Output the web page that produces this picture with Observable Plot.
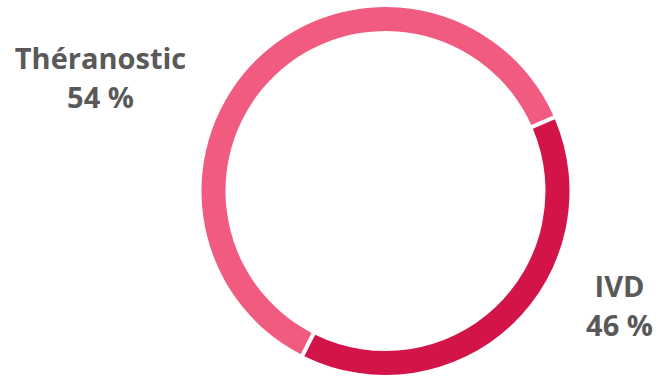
<!DOCTYPE html>
<html><head><meta charset="utf-8">
<script src="https://cdn.jsdelivr.net/npm/d3@7"></script>
<script src="https://cdn.jsdelivr.net/npm/@observablehq/plot@0.6"></script>
<style>html,body{margin:0;padding:0;background:#fff}svg{display:block}</style>
</head><body><div id="chart"></div>
<script>
// Data (arc sizes read from the drawn ring; labels as printed)
const categories = ["IVD", "Théranostic"];
const shares = [39, 61];
const pctLabels = ["46 %", "54 %"];
const colors = ["#D31449", "#F25B80"];

// Layout (pixel units)
const W = 659, H = 379;
const ring = {cx: 385.5, cy: 191, outer: 184, inner: 160, startDeg: 66.4, gap: 4};
const labelPos = [[619, 287.5], [100, 59.5]];
const lineGap = 39;

const data = categories.map((c, i) => ({
  category: c, share: shares[i], pct: pctLabels[i], color: colors[i],
  lx: labelPos[i][0], ly: labelPos[i][1]
}));

const a0 = ring.startDeg * Math.PI / 180;
const pie = d3.pie().value(d => d.share).sort(null).startAngle(a0).endAngle(a0 + 2 * Math.PI);
const arcs = pie(data);

const ringMark = Plot.dot(data, {
  x: () => ring.cx, y: () => ring.cy,
  render: (index, scales) => {
    const cx = scales.x(ring.cx), cy = scales.y(ring.cy);
    const ro = scales.x(ring.cx + ring.outer) - cx;
    const ri = scales.x(ring.cx + ring.inner) - cx;
    const arc = d3.arc().innerRadius(ri).outerRadius(ro)
      .padAngle(ring.gap / Math.sqrt(ri * ri + ro * ro));
    const g = d3.create("svg:g").attr("transform", `translate(${cx},${cy})`);
    g.selectAll("path").data(arcs).join("path")
      .attr("d", arc).attr("fill", d => scales.color(d.data.category));
    return g.node();
  }
});

const textOpts = {fontSize: 29, fontWeight: "bold", fill: "#595959", textAnchor: "middle", lineAnchor: "middle"};

const chart = Plot.plot({
  width: W, height: H,
  margin: 0,
  x: {domain: [0, W], range: [0, W], axis: null},
  y: {domain: [0, H], range: [0, H], axis: null},
  color: {domain: categories, range: colors},
  style: {fontFamily: "'Open Sans', sans-serif", background: "#fff"},
  marks: [
    ringMark,
    Plot.text(data, {x: "lx", y: "ly", text: "category", ...textOpts}),
    Plot.text(data, {x: "lx", y: d => d.ly + lineGap, text: "pct", ...textOpts})
  ]
});
document.getElementById("chart").appendChild(chart);
</script>
</body></html>
